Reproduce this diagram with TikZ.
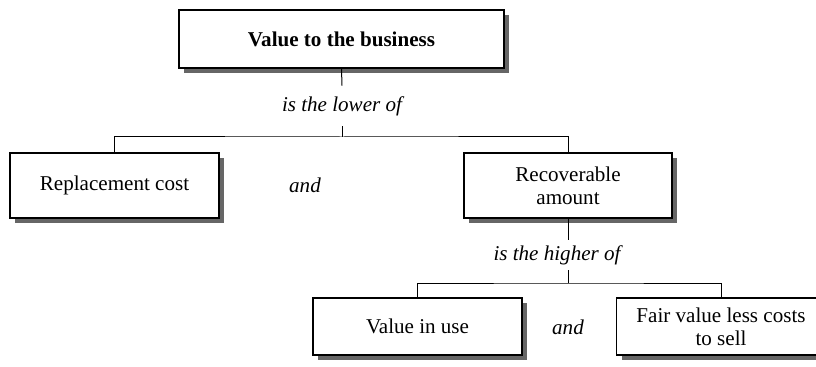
\documentclass[tikz,border=0pt]{standalone}
\usepackage{fontspec}
\setmainfont{Liberation Serif}
\usepackage{tikz}
\usetikzlibrary{calc, shadows}
\definecolor{shadowgray}{HTML}{666666}

\begin{document}
\begin{tikzpicture}[x=0.75pt, y=-0.75pt, every node/.style={font=\fontsize{15.8}{17}\selectfont}]
    \tikzset{
        box/.style={draw, fill=white, line width=1.1pt, align=center, inner sep=0pt,
            drop shadow={shadow xshift=3.75pt, shadow yshift=-3.75pt, fill=shadowgray, opacity=1}},
        link/.style={line width=0.75pt},
        word/.style={font=\fontsize{15.8}{17}\selectfont\itshape, inner sep=0pt}
    }
    \useasboundingbox (0,0) rectangle (816,367);

    \node[box, font=\fontsize{15.8}{17}\selectfont\bfseries, minimum width=243.75pt, minimum height=43.5pt] (value) at (341.5,39) {Value to the business};
    \node[word, minimum height=30pt] (lower) at (342,106) {is the lower of};
    \node[box, minimum width=156.75pt, minimum height=48.75pt] (replace) at (114.5,185.5) {Replacement cost};
    \node[word] (and1) at (305,185) {and};
    \node[box, minimum width=156pt, minimum height=48.75pt] (recover) at (568,185.5) {Recoverable\\amount};
    \node[word, minimum height=22.5pt] (higher) at (557,255) {is the higher of};
    \node[box, minimum width=156.75pt, minimum height=42.75pt] (inuse) at (417.5,326.5) {Value in use};
    \node[word] (and2) at (568,327) {and};
    \node[box, minimum width=156.75pt, minimum height=42.75pt] (fairval) at (721,326.5) {Fair value less costs\\to sell};

    \coordinate (bus1) at (342,137);
    \coordinate (bus2) at (568,283);

    \draw[link] (value.south) -- (lower.north);
    \draw[link] (lower.south) -- (bus1);
    \draw[link] (replace.north) |- (bus1) -| (recover.north);

    \draw[link] (recover.south) -- (recover.south |- higher.north);
    \draw[link] (recover.south |- higher.south) -- (bus2);
    \draw[link] (inuse.north) |- (bus2) -| (fairval.north);
\end{tikzpicture}
\end{document}
